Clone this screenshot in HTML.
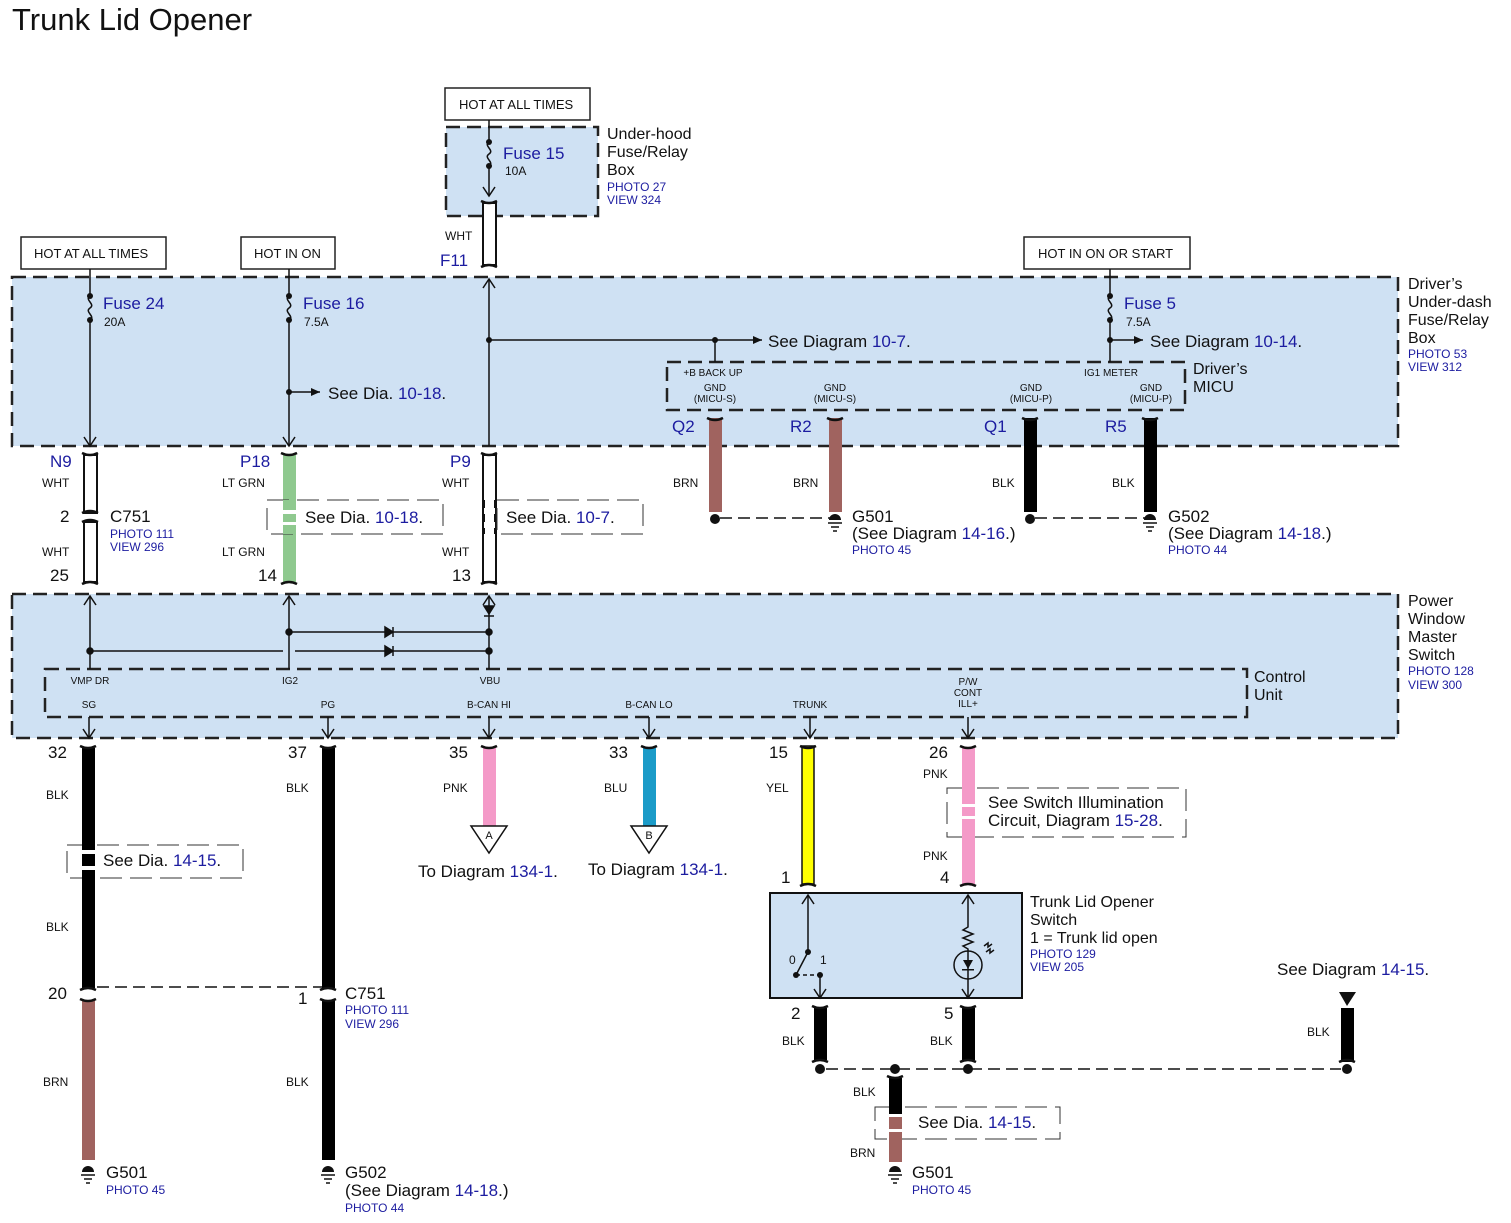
<!DOCTYPE html>
<html><head><meta charset="utf-8"><style>
html,body{margin:0;padding:0;background:#fff}
svg{display:block}
text{font-family:"Liberation Sans",Arial,sans-serif;fill:#111}
.b,.b text{fill:#1c1ca0}
.s,.s text{font-size:12px}
.t{font-size:10px}
.m,.m text{font-size:17px}
</style></head><body>
<svg width="1511" height="1223" viewBox="0 0 1511 1223" xmlns="http://www.w3.org/2000/svg">
<defs>
<marker id="ah" markerWidth="10" markerHeight="10" refX="9" refY="5" orient="auto" markerUnits="userSpaceOnUse"><path d="M0,1 L9,5 L0,9 Z" fill="#111"/></marker>
<marker id="av" markerWidth="12" markerHeight="14" refX="10" refY="7" orient="auto" markerUnits="userSpaceOnUse"><path d="M1,1 L10,7 L1,13" fill="none" stroke="#111" stroke-width="1.5"/></marker>
</defs>
<text x="12" y="30" font-size="31">Trunk Lid Opener</text>

<!-- boxes -->
<g stroke="#222" stroke-width="2.5" stroke-dasharray="14,7" fill="#cfe1f3">
<rect x="446" y="127" width="152" height="89"/>
<rect x="12" y="277" width="1386" height="169"/>
<rect x="12" y="594" width="1386" height="144"/>
</g>
<g stroke="#222" stroke-width="2.5" stroke-dasharray="14,7" fill="none">
<rect x="667" y="362" width="518" height="48"/>
<rect x="45" y="669" width="1202" height="48"/>
</g>
<g fill="#fff" stroke="#222" stroke-width="1.5">
<rect x="445" y="88" width="145" height="32"/>
<rect x="21" y="237" width="145" height="32"/>
<rect x="241" y="237" width="94" height="32"/>
<rect x="1024" y="237" width="166" height="32"/>
</g>
<g font-size="13">
<text x="459" y="109">HOT AT ALL TIMES</text>
<text x="34" y="258">HOT AT ALL TIMES</text>
<text x="254" y="258">HOT IN ON</text>
<text x="1038" y="258">HOT IN ON OR START</text>
</g>

<!-- fuses -->
<g stroke="#111" stroke-width="1.5" fill="none">
<path d="M489 120 V142 c-6 4 6 8 0 12 c-6 4 6 8 0 12 V196" marker-end="url(#av)"/>
<path d="M90 269 V296 c-6 4 6 8 0 12 c-6 4 6 8 0 12 V446" marker-end="url(#av)"/>
<path d="M289 269 V296 c-6 4 6 8 0 12 c-6 4 6 8 0 12 V446" marker-end="url(#av)"/>
<path d="M1110 269 V296 c-6 4 6 8 0 12 c-6 4 6 8 0 12 V362"/>
<path d="M489 446 V279" marker-end="url(#av)"/>
<path d="M489 340 H762" marker-end="url(#ah)"/>
<path d="M715 340 V362"/>
<path d="M1110 340 H1143" marker-end="url(#ah)"/>
<path d="M289 392 H320" marker-end="url(#ah)"/>
</g>
<g fill="#111">
<circle cx="489" cy="142" r="3"/><circle cx="489" cy="166" r="3"/>
<circle cx="90" cy="296" r="3"/><circle cx="90" cy="320" r="3"/>
<circle cx="289" cy="296" r="3"/><circle cx="289" cy="320" r="3"/>
<circle cx="1110" cy="296" r="3"/><circle cx="1110" cy="320" r="3"/>
<circle cx="489" cy="340" r="3"/><circle cx="715" cy="340" r="3"/><circle cx="1110" cy="340" r="3"/><circle cx="289" cy="392" r="3"/>
</g>
<text x="503" y="159" class="m b">Fuse 15</text><text x="505" y="175" class="s">10A</text>
<text x="103" y="309" class="m b">Fuse 24</text><text x="104" y="326" class="s">20A</text>
<text x="303" y="309" class="m b">Fuse 16</text><text x="304" y="326" class="s">7.5A</text>
<text x="1124" y="309" class="m b">Fuse 5</text><text x="1126" y="326" class="s">7.5A</text>
<text x="768" y="347" class="m">See Diagram <tspan class="b">10-7</tspan>.</text>
<text x="1150" y="347" class="m">See Diagram <tspan class="b">10-14</tspan>.</text>
<text x="328" y="399" class="m">See  Dia. <tspan class="b">10-18</tspan>.</text>

<g font-size="16">
<text x="607" y="139">Under-hood</text><text x="607" y="157">Fuse/Relay</text><text x="607" y="175">Box</text>
<text x="1408" y="289">Driver’s</text><text x="1408" y="307">Under-dash</text><text x="1408" y="325">Fuse/Relay</text><text x="1408" y="343">Box</text>
<text x="1193" y="374">Driver’s</text><text x="1193" y="392">MICU</text>
<text x="1408" y="606">Power</text><text x="1408" y="624">Window</text><text x="1408" y="642">Master</text><text x="1408" y="660">Switch</text>
<text x="1254" y="682">Control</text><text x="1254" y="700">Unit</text>
<text x="1030" y="907">Trunk Lid Opener</text><text x="1030" y="925">Switch</text><text x="1030" y="943">1 = Trunk lid open</text>
</g>
<g class="s b">
<text x="607" y="191">PHOTO 27</text><text x="607" y="204">VIEW 324</text>
<text x="1408" y="358">PHOTO 53</text><text x="1408" y="371">VIEW 312</text>
<text x="1408" y="675">PHOTO 128</text><text x="1408" y="689">VIEW 300</text>
<text x="1030" y="958">PHOTO 129</text><text x="1030" y="971">VIEW 205</text>
</g>

<!-- MICU labels -->
<g class="t" text-anchor="middle">
<text x="713" y="376">+B BACK UP</text><text x="1111" y="376">IG1 METER</text>
<text x="715" y="391">GND</text><text x="715" y="402">(MICU-S)</text>
<text x="835" y="391">GND</text><text x="835" y="402">(MICU-S)</text>
<text x="1031" y="391">GND</text><text x="1031" y="402">(MICU-P)</text>
<text x="1151" y="391">GND</text><text x="1151" y="402">(MICU-P)</text>
<text x="90" y="684">VMP DR</text><text x="290" y="684">IG2</text><text x="490" y="684">VBU</text>
<text x="968" y="685">P/W</text><text x="968" y="696">CONT</text><text x="968" y="707">ILL+</text>
<text x="89" y="708">SG</text><text x="328" y="708">PG</text><text x="489" y="708">B-CAN HI</text><text x="649" y="708">B-CAN LO</text><text x="810" y="708">TRUNK</text>
</g>
<g class="m b">
<text x="672" y="432">Q2</text><text x="790" y="432">R2</text><text x="984" y="432">Q1</text><text x="1105" y="432">R5</text>
<text x="440" y="266">F11</text><text x="50" y="467">N9</text><text x="240" y="467">P18</text><text x="450" y="467">P9</text>
</g>

<!-- white wires -->
<g fill="#fff" stroke="#111" stroke-width="2">
<rect x="483" y="203" width="13" height="62"/>
<rect x="84" y="455" width="13" height="58"/><rect x="84" y="522" width="13" height="60"/>
<rect x="483" y="455" width="13" height="127"/>
</g>
<rect x="283" y="455" width="13" height="127" fill="#8fc98f"/>
<g stroke="#111" stroke-width="2.5" fill="none">
<path d="M481 201 q8 4 16 0 M481 267 q8 -4 16 0"/>
<path d="M82 453 q8 4 16 0 M82 513 q8 -4 16 0 M82 522 q8 -4 16 0 M82 584 q8 -4 16 0"/>
<path d="M281 453 q8 4 16 0 M281 584 q8 -4 16 0"/>
<path d="M481 453 q8 4 16 0 M481 584 q8 -4 16 0"/>
</g>
<g class="s">
<text x="445" y="240">WHT</text>
<text x="42" y="487">WHT</text><text x="42" y="556">WHT</text>
<text x="222" y="487">LT GRN</text><text x="222" y="556">LT GRN</text>
<text x="442" y="487">WHT</text><text x="442" y="556">WHT</text>
<text x="673" y="487">BRN</text><text x="793" y="487">BRN</text><text x="992" y="487">BLK</text><text x="1112" y="487">BLK</text>
</g>
<g class="m">
<text x="60" y="522">2</text><text x="50" y="581">25</text><text x="258" y="581">14</text><text x="452" y="581">13</text>
<text x="110" y="522">C751</text>
</g>
<text x="110" y="538" class="s b">PHOTO 111</text><text x="110" y="551" class="s b">VIEW 296</text>

<!-- see dia dashed boxes -->
<g fill="#fff" stroke="#333" stroke-width="1" stroke-dasharray="22,8">
<rect x="267" y="500" width="176" height="34"/>
<rect x="497" y="500" width="146" height="34" />
<rect x="67" y="845" width="176" height="33"/>
<rect x="947" y="788" width="239" height="49"/>
<rect x="875" y="1107" width="185" height="32"/>
</g>
<rect x="283" y="500" width="13" height="34" fill="#8fc98f"/>
<rect x="278" y="510" width="24" height="4" fill="#fff"/><rect x="278" y="522" width="24" height="3" fill="#fff"/>
<rect x="484" y="500" width="11" height="34" fill="#fff"/>
<g stroke="#111" stroke-width="2"><path d="M484 500 V508 M484 514 V522 M484 528 V534 M495 500 V508 M495 514 V522 M495 528 V534"/></g>
<text x="305" y="523" class="m">See  Dia. <tspan class="b">10-18</tspan>.</text>
<text x="506" y="523" class="m">See  Dia. <tspan class="b">10-7</tspan>.</text>

<!-- MICU ground wires -->
<rect x="709" y="418" width="13" height="94" fill="#a0635f"/>
<rect x="829" y="418" width="13" height="94" fill="#a0635f"/>
<rect x="1024" y="418" width="13" height="94" fill="#000"/>
<rect x="1144" y="418" width="13" height="94" fill="#000"/>
<g stroke="#111" stroke-width="2.5" fill="none"><path d="M707 418 q8 4 16 0 M827 418 q8 4 16 0 M1022 418 q8 4 16 0 M1142 418 q8 4 16 0"/></g>
<g stroke="#111" stroke-width="1.5" stroke-dasharray="12,6" fill="none"><path d="M720 518 H830 M1035 518 H1146"/></g>
<g fill="#111">
<circle cx="715" cy="519" r="5"/><circle cx="1030" cy="519" r="5"/>
<path d="M829 520 a6 6 0 0 1 12 0 Z"/><path d="M1144 520 a6 6 0 0 1 12 0 Z"/>
</g>
<g stroke="#111" stroke-width="1.5"><path d="M828 523 H842 M831 527 H839 M833 531 H837 M1143 523 H1157 M1146 527 H1154 M1148 531 H1152"/></g>
<text x="852" y="522" class="m">G501</text><text x="852" y="539" class="m">(See Diagram <tspan class="b">14-16</tspan>.)</text><text x="852" y="554" class="s b">PHOTO 45</text>
<text x="1168" y="522" class="m">G502</text><text x="1168" y="539" class="m">(See  Diagram <tspan class="b">14-18</tspan>.)</text><text x="1168" y="554" class="s b">PHOTO 44</text>

<!-- power window internal -->
<g stroke="#111" stroke-width="1.5" fill="none">
<path d="M90 669 V596" marker-end="url(#av)"/>
<path d="M289 669 V596" marker-end="url(#av)"/>
<path d="M489 669 V596" marker-end="url(#av)"/>
<path d="M289 632 H489"/>
<path d="M90 651 H283 M295 651 H489"/>
<path d="M89 717 V738" marker-end="url(#av)"/><path d="M328 717 V738" marker-end="url(#av)"/>
<path d="M489 717 V738" marker-end="url(#av)"/><path d="M649 717 V738" marker-end="url(#av)"/>
<path d="M810 717 V738" marker-end="url(#av)"/><path d="M968 717 V738" marker-end="url(#av)"/>
</g>
<g fill="#111" stroke="#111" stroke-width="1.5">
<path d="M385 627 L393 632 L385 637 Z"/><path d="M393 627 V637"/>
<path d="M385 646 L393 651 L385 656 Z"/><path d="M393 646 V656"/>
<path d="M484 606 L489 614 L494 606 Z"/><path d="M484 616 H494"/>
<circle cx="289" cy="632" r="3"/><circle cx="489" cy="632" r="3"/><circle cx="90" cy="651" r="3"/><circle cx="489" cy="651" r="3"/>
</g>

<!-- lower wires -->
<rect x="82" y="748" width="13" height="240" fill="#000"/>
<rect x="82" y="1000" width="13" height="160" fill="#a0635f"/>
<rect x="322" y="748" width="13" height="240" fill="#000"/>
<rect x="322" y="1000" width="13" height="160" fill="#000"/>
<rect x="483" y="748" width="13" height="78" fill="#f49ac8"/>
<rect x="643" y="748" width="13" height="78" fill="#1b9bc8"/>
<rect x="802" y="746" width="12" height="138" fill="#ffff00" stroke="#111" stroke-width="1.5"/>
<rect x="962" y="748" width="13" height="136" fill="#f49ac8"/>
<rect x="814" y="1008" width="13" height="52" fill="#000"/>
<rect x="962" y="1008" width="13" height="52" fill="#000"/>
<rect x="889" y="1078" width="13" height="38" fill="#000"/>
<rect x="889" y="1116" width="13" height="46" fill="#a0635f"/>
<rect x="1341" y="1008" width="13" height="54" fill="#000"/>
<path d="M1339 992 H1356 L1347 1006 Z" fill="#111"/>
<rect x="82" y="845" width="13" height="33" fill="#000"/>
<rect x="78" y="850" width="21" height="4" fill="#fff"/><rect x="78" y="866" width="21" height="4" fill="#fff"/>
<rect x="962" y="788" width="13" height="49" fill="#f49ac8"/>
<rect x="958" y="804" width="21" height="3" fill="#fff"/><rect x="958" y="816" width="21" height="3" fill="#fff"/>
<rect x="889" y="1107" width="13" height="32" fill="#a0635f"/>
<rect x="885" y="1114" width="21" height="3" fill="#fff"/><rect x="885" y="1129" width="21" height="3" fill="#fff"/>
<rect x="889" y="1107" width="13" height="7" fill="#000"/>
<g stroke="#111" stroke-width="2.5" fill="none">
<path d="M80 746 q8 4 16 0 M320 746 q8 4 16 0 M481 746 q8 4 16 0 M641 746 q8 4 16 0 M800 746 q8 4 16 0 M960 746 q8 4 16 0"/>
<path d="M80 990 q8 -4 16 0 M80 999 q8 4 16 0 M320 990 q8 -4 16 0 M320 999 q8 4 16 0"/>
<path d="M800 886 q8 -4 16 0 M960 886 q8 -4 16 0"/>
<path d="M812 1006 q8 4 16 0 M960 1006 q8 4 16 0 M812 1062 q8 -4 16 0 M960 1062 q8 -4 16 0 M1339 1062 q8 -4 16 0 M887 1076 q8 4 16 0"/>
</g>
<g stroke="#111" stroke-width="1.5" stroke-dasharray="12,6" fill="none"><path d="M97 987 H322 M826 1069 H1341"/></g>
<g fill="#111"><circle cx="820" cy="1069" r="5"/><circle cx="895" cy="1069" r="5"/><circle cx="968" cy="1069" r="5"/><circle cx="1347" cy="1069" r="5"/>
<path d="M82 1172 a6 6 0 0 1 12 0 Z"/><path d="M322 1172 a6 6 0 0 1 12 0 Z"/><path d="M889 1172 a6 6 0 0 1 12 0 Z"/></g>
<g stroke="#111" stroke-width="1.5"><path d="M81 1175 H95 M84 1179 H92 M86 1183 H90 M321 1175 H335 M324 1179 H332 M326 1183 H330 M888 1175 H902 M891 1179 H899 M893 1183 H897"/></g>
<g fill="#fff" stroke="#111" stroke-width="1.5"><path d="M471 826 H507 L489 853 Z"/><path d="M631 826 H667 L649 853 Z"/></g>
<text x="489" y="839" font-size="11" text-anchor="middle">A</text><text x="649" y="839" font-size="11" text-anchor="middle">B</text>

<g class="m">
<text x="48" y="758">32</text><text x="288" y="758">37</text><text x="449" y="758">35</text><text x="609" y="758">33</text><text x="769" y="758">15</text><text x="929" y="758">26</text>
<text x="48" y="999">20</text><text x="298" y="1004">1</text><text x="345" y="999">C751</text>
<text x="781" y="883">1</text><text x="940" y="883">4</text><text x="791" y="1019">2</text><text x="944" y="1019">5</text>
<text x="103" y="866">See  Dia.  <tspan class="b">14-15</tspan>.</text>
<text x="418" y="877">To Diagram  <tspan class="b">134-1</tspan>.</text>
<text x="588" y="875">To  Diagram  <tspan class="b">134-1</tspan>.</text>
<text x="988" y="808">See Switch Illumination</text><text x="988" y="826">Circuit, Diagram <tspan class="b">15-28</tspan>.</text>
<text x="918" y="1128">See  Dia.  <tspan class="b">14-15</tspan>.</text>
<text x="1277" y="975">See Diagram  <tspan class="b">14-15</tspan>.</text>
<text x="106" y="1178">G501</text><text x="345" y="1178">G502</text><text x="345" y="1196">(See  Diagram <tspan class="b">14-18</tspan>.)</text>
<text x="912" y="1178">G501</text>
</g>
<g class="s">
<text x="46" y="799">BLK</text><text x="46" y="931">BLK</text><text x="43" y="1086">BRN</text>
<text x="286" y="792">BLK</text><text x="286" y="1086">BLK</text>
<text x="443" y="792">PNK</text><text x="604" y="792">BLU</text><text x="766" y="792">YEL</text>
<text x="923" y="778">PNK</text><text x="923" y="860">PNK</text>
<text x="782" y="1045">BLK</text><text x="930" y="1045">BLK</text><text x="1307" y="1036">BLK</text>
<text x="853" y="1096">BLK</text><text x="850" y="1157">BRN</text>
</g>
<g class="s b"><text x="345" y="1014">PHOTO 111</text><text x="345" y="1028">VIEW 296</text>
<text x="106" y="1194">PHOTO 45</text><text x="345" y="1212">PHOTO 44</text><text x="912" y="1194">PHOTO 45</text></g>

<!-- switch box -->
<rect x="770" y="893" width="252" height="105" fill="#cfe1f3" stroke="#111" stroke-width="2"/>
<g stroke="#111" stroke-width="1.5" fill="none">
<path d="M808 952 V895" marker-end="url(#av)"/>
<path d="M808 952 L796 975"/>
<path d="M796 975 H820" stroke-dasharray="4,3"/>
<path d="M820 975 V998" marker-end="url(#av)"/>
<path d="M968 922 V895" marker-end="url(#av)"/>
<path d="M968 922 V927 l-5 3 l10 4 l-10 4 l10 4 l-10 4 l5 3 V998" marker-end="url(#av)"/>
<circle cx="968" cy="965" r="14"/>
<path d="M986 952 l4 -3 l0 4 l4 -3 M984 946 l4 -3 l0 4 l4 -3"/>
</g>
<g fill="#111"><circle cx="808" cy="952" r="3"/><circle cx="796" cy="975" r="3"/><circle cx="820" cy="975" r="3"/>
<path d="M963 960 H973 L968 969 Z"/><rect x="962" y="969" width="12" height="1.5"/></g>
<text x="789" y="964" font-size="12">0</text><text x="820" y="964" font-size="12">1</text>
</svg>
</body></html>
